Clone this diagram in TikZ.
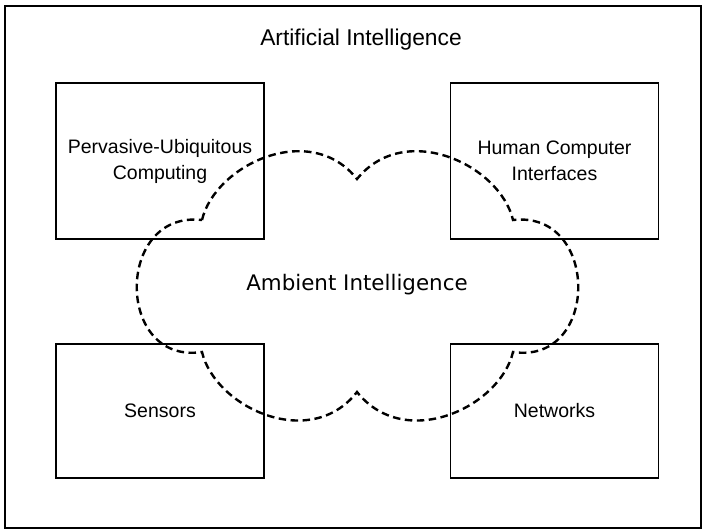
\documentclass[tikz,border=0pt]{standalone}
\usepackage{fontspec}
\setmainfont{Liberation Sans}
\newfontfamily\cloudfont{DejaVu Sans}
\usepackage{xcolor}
\usepackage{tikz}
\tikzset{
	area/.style={draw, line width=1.4pt, minimum width=208pt, inner sep=0pt, align=center,
		font=\fontsize{19.5}{26}\selectfont},
	cloudline/.style={line width=2.4pt, dash pattern=on 7.5pt off 4.5pt}
}

\begin{document}
\begin{tikzpicture}[x=1pt, y=-1pt]
	\useasboundingbox (0,0) rectangle (709,531);
	\draw[line width=1.7pt] (5,6) rectangle (701,528);
	\node[font=\fontsize{22.8}{27}\selectfont] (ai) at (361,40) {Artificial Intelligence};
	% the four fields
	\node[area, minimum height=156pt] (puc) at (160,161) {Pervasive-Ubiquitous\\Computing};
	\node[area, minimum height=156pt] (hci) at (554.5,161) {Human Computer\\Interfaces};
	\node[area, minimum height=134pt] (sen) at (160,411) {Sensors};
	\node[area, minimum height=134pt] (net) at (554.5,411) {Networks};
	% cloud
	\draw[cloudline] (202,220) .. controls (215,165) and (310,120) .. (357,179)
		.. controls (405,120) and (500,165) .. (513,220)
		.. controls (600,210) and (600,365) .. (513,352)
		.. controls (500,407) and (405,452) .. (357,392)
		.. controls (310,452) and (215,407) .. (202,352)
		.. controls (115,365) and (115,210) .. cycle;
	\node[font=\cloudfont\fontsize{21.4}{26}\selectfont] (ami) at (357,285) {Ambient Intelligence};
\end{tikzpicture}
\end{document}
